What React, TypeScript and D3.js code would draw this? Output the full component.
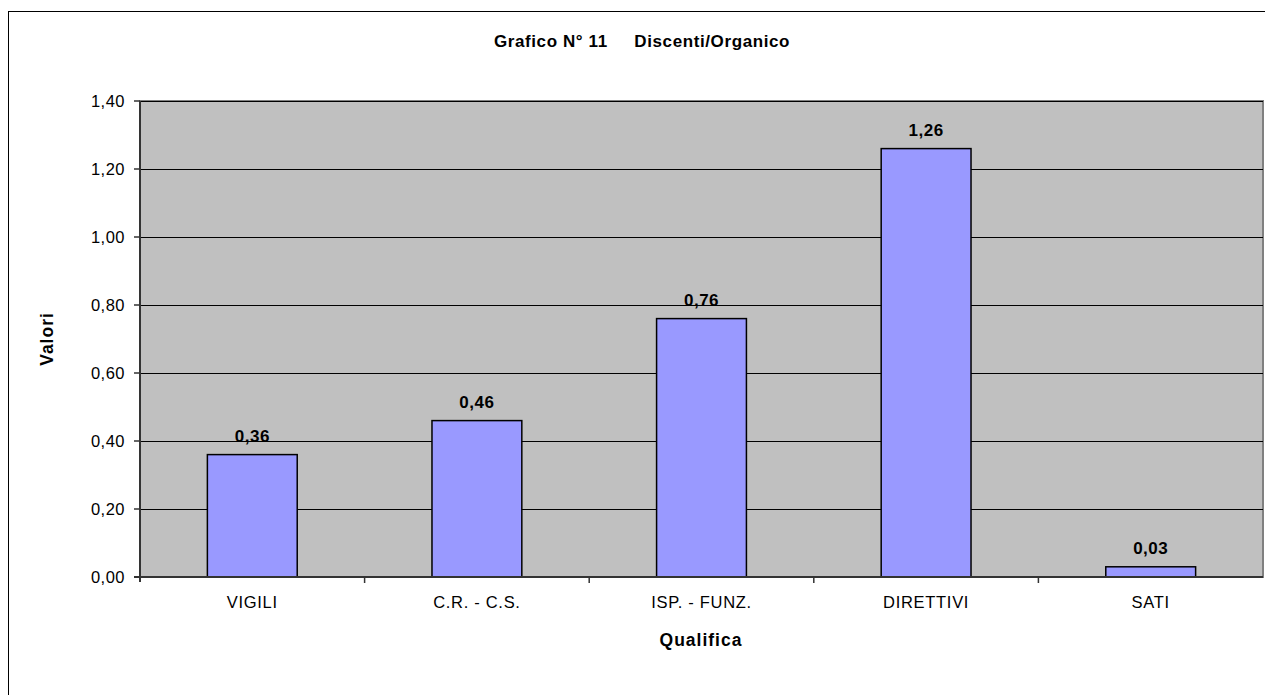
import React from 'react';
import * as d3 from 'd3';

// chart data
const categories = ['VIGILI', 'C.R. - C.S.', 'ISP. - FUNZ.', 'DIRETTIVI', 'SATI'];
const values = [0.36, 0.46, 0.76, 1.26, 0.03];
const yTicks = [0, 0.2, 0.4, 0.6, 0.8, 1.0, 1.2, 1.4];

const W = 1265;
const H = 695;
const plot = { left: 140, top: 101, right: 1263, bottom: 577 };
const font = 'Arial, "Liberation Sans", sans-serif';

const fmt = (v: number) => v.toFixed(2).replace('.', ',');

const App = () => {
  const x = d3.scaleBand<string>()
    .domain(categories)
    .range([plot.left, plot.right]);

  const y = d3.scaleLinear()
    .domain([0, 1.4])
    .range([plot.bottom, plot.top]);

  const barW = x.bandwidth() * 0.4;

  return (
    <svg width={W} height={H} style={{ position: 'absolute', left: 0, top: 0, background: '#fff' }}
      fontFamily={font}>
      {/* outer chart frame, runs off the page on right/bottom */}
      <rect x={8.5} y={11.5} width={1400} height={800} fill="#fff" stroke="#000" strokeWidth={1} />

      <text x={642} y={47} textAnchor="middle" fontSize={17} fontWeight="bold" letterSpacing={0.6}
        style={{ whiteSpace: 'pre' }}>
        {'Grafico N° 11     Discenti/Organico'}
      </text>

      {/* plot area */}
      <rect x={plot.left} y={plot.top} width={plot.right - plot.left} height={plot.bottom - plot.top}
        fill="#c0c0c0" stroke="#808080" strokeWidth={2} />

      {/* gridlines */}
      {yTicks.slice(1).map(t => (
        <line key={t} x1={plot.left} x2={plot.right} y1={Math.round(y(t)) + 0.5} y2={Math.round(y(t)) + 0.5}
          stroke="#000" strokeWidth={1} />
      ))}

      {/* bars */}
      {categories.map((c, i) => {
        const cx = x(c)! + x.bandwidth() / 2;
        return (
          <g key={c}>
            <rect x={cx - barW / 2} y={y(values[i])} width={barW} height={y(0) - y(values[i])}
              fill="#9999ff" stroke="#000" strokeWidth={1.5} />
            <text x={cx} y={y(values[i]) - 13} textAnchor="middle" fontSize={17} fontWeight="bold"
              letterSpacing={0.5}>
              {fmt(values[i])}
            </text>
            <text x={cx} y={608} textAnchor="middle" fontSize={16.5} letterSpacing={0.7}>{c}</text>
          </g>
        );
      })}

      {/* axes */}
      <line x1={plot.left} x2={plot.left} y1={plot.top} y2={plot.bottom + 5} stroke="#333" strokeWidth={2} />
      <line x1={plot.left - 6} x2={plot.right} y1={plot.bottom} y2={plot.bottom} stroke="#333" strokeWidth={2} />
      {yTicks.map(t => (
        <g key={t}>
          <line x1={plot.left - 6} x2={plot.left} y1={y(t)} y2={y(t)} stroke="#333" strokeWidth={1.5} />
          <text x={125} y={y(t) + 6} textAnchor="end" fontSize={16.5} letterSpacing={0.5}>{fmt(t)}</text>
        </g>
      ))}
      {categories.slice(1).map(c => (
        <line key={c} x1={x(c)!} x2={x(c)!} y1={plot.bottom} y2={plot.bottom + 6} stroke="#333" strokeWidth={1.5} />
      ))}

      <text x={701} y={646} textAnchor="middle" fontSize={17.5} fontWeight="bold" letterSpacing={1}>Qualifica</text>
      <text transform={`translate(53,339) rotate(-90)`} textAnchor="middle" fontSize={17.5} fontWeight="bold"
        letterSpacing={1}>
        Valori
      </text>
    </svg>
  );
};

export default App;
